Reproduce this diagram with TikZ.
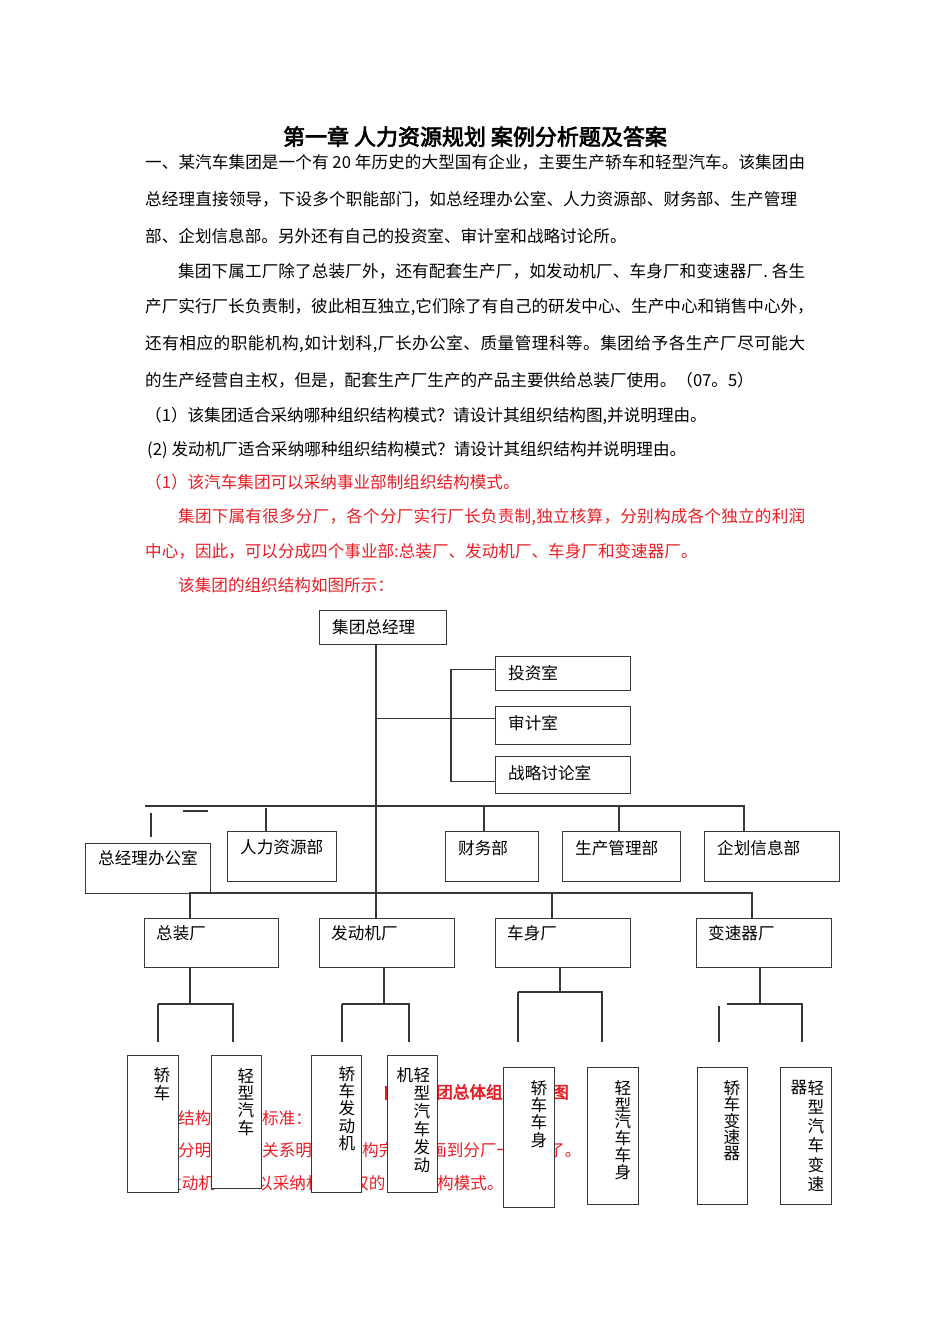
\documentclass[tikz,border=0pt]{standalone}
\usepackage{fontspec}
\setmainfont{Noto Sans CJK SC}[AutoFakeBold=3]
\usetikzlibrary{positioning}

\definecolor{ansred}{RGB}{232,30,36}
\definecolor{boxline}{RGB}{55,55,55}

% justified line: glue between every two characters
\makeatletter
\def\jl@end{\jl@end}
\newcommand{\jline}[2]{\makebox[#1][s]{\jl@first#2\jl@end}}
\def\jl@first#1{#1\jl@next}
\def\jl@next#1{\ifx#1\jl@end\else\hfil#1\expandafter\jl@next\fi}
\makeatother

\begin{document}
\begin{tikzpicture}[
      x=1pt, y=-1pt,
      txt/.style={anchor=base west, inner sep=0pt,
                  font=\fontsize{16.6}{20}\selectfont},
      ans/.style={txt, text=ansred},
      orgbox/.style={draw=boxline, line width=1.2pt, fill=white,
                     anchor=north west, inner sep=0pt},
      boxtxt/.style={inner sep=0pt, font=\fontsize{16.6}{20}\selectfont},
      vchar/.style={inner sep=0pt, font=\fontsize{16.6}{20}\selectfont},
      link/.style={draw=boxline, line width=1.2pt}
    ]
    \useasboundingbox (0,0) rectangle (950,1344);

    % question text
    \node[anchor=base, inner sep=0pt, font=\fontsize{22}{26}\selectfont\bfseries]
      (title) at (475,145) {第一章 人力资源规划 案例分析题及答案};
    \node[txt] (p1a) at (145,168.3) {\jline{660pt}{一、某汽车集团是一个有~20~年历史的大型国有企业，主要生产轿车和轻型汽车。该集团由}};
    \node[txt] (p1b) at (145,205.3) {\jline{652pt}{总经理直接领导，下设多个职能部门，如总经理办公室、人力资源部、财务部、生产管理}};
    \node[txt] (p1c) at (145,242.3) {部、企划信息部。另外还有自己的投资室、审计室和战略讨论所。};
    \node[txt] (p2a) at (178,277.3) {\jline{627pt}{集团下属工厂除了总装厂外，还有配套生产厂，如发动机厂、车身厂和变速器厂.~各生}};
    \node[txt] (p2b) at (145,312.3) {\jline{667pt}{产厂实行厂长负责制，彼此相互独立,它们除了有自己的研发中心、生产中心和销售中心外，}};
    \node[txt] (p2c) at (145,349.3) {\jline{660pt}{还有相应的职能机构,如计划科,厂长办公室、质量管理科等。集团给予各生产厂尽可能大}};
    \node[txt] (p2d) at (145,386.3) {的生产经营自主权，但是，配套生产厂生产的产品主要供给总装厂使用。（07。5）};
    \node[txt] (q1) at (145,421.3) {（1）该集团适合采纳哪种组织结构模式？请设计其组织结构图,并说明理由。};
    \node[txt] (q2) at (147,455.3) {(2)\kern4pt 发动机厂适合采纳哪种组织结构模式？请设计其组织结构并说明理由。};

    % answer text
    \node[ans] (a1) at (145,488.3) {（1）该汽车集团可以采纳事业部制组织结构模式。};
    \node[ans] (a2) at (178,522.3) {\jline{627pt}{集团下属有很多分厂，各个分厂实行厂长负责制,独立核算，分别构成各个独立的利润}};
    \node[ans] (a3) at (145,557.3) {中心，因此，可以分成四个事业部:总装厂、发动机厂、车身厂和变速器厂。};
    \node[ans] (a4) at (178,591.3) {该集团的组织结构如图所示：};

    % answer text left under the small boxes
    \fill[ansred] (385,1086) rectangle (388,1100);
    \node[ans, font=\fontsize{16.6}{20}\selectfont\bfseries] (cap-a) at (436,1098.3) {团总体组};
    \node[ans, font=\fontsize{16.6}{20}\selectfont\bfseries] (cap-b) at (552,1098.3) {图};
    \node[ans] (r1a) at (178,1124.3) {结构};
    \node[ans] (r1b) at (262,1124.3) {标准：};
    \node[ans] (r2a) at (178,1156.3) {分明};
    \node[ans] (r2b) at (262,1156.3) {关系明};
    \node[ans] (r2c) at (362,1156.3) {构完};
    \node[ans] (r2d) at (430,1156.3) {画到分厂一};
    \node[ans] (r2e) at (548,1156.3) {了。};
    \node[ans] (r3a) at (165,1189.3) {发动机};
    \node[ans] (r3b) at (256,1189.3) {以采纳机};
    \node[ans] (r3c) at (352,1189.3) {权的};
    \node[ans] (r3d) at (437,1189.3) {构模式。};

    % boxes
    \node[orgbox, minimum width=127, minimum height=34] (gm) at (319,610) {};
    \node[orgbox, minimum width=135, minimum height=34] (inv) at (495,656) {};
    \node[orgbox, minimum width=135, minimum height=38] (aud) at (495,706) {};
    \node[orgbox, minimum width=135, minimum height=37] (strat) at (495,756) {};
    \node[orgbox, minimum width=125, minimum height=50] (off) at (85,843) {};
    \node[orgbox, minimum width=109, minimum height=50] (hr) at (227,831) {};
    \node[orgbox, minimum width=93, minimum height=50] (fin) at (445,831) {};
    \node[orgbox, minimum width=118, minimum height=50] (prod) at (562,831) {};
    \node[orgbox, minimum width=135, minimum height=50] (plan) at (704,831) {};
    \node[orgbox, minimum width=134, minimum height=49] (asm) at (144,918) {};
    \node[orgbox, minimum width=135, minimum height=49] (eng) at (319,918) {};
    \node[orgbox, minimum width=135, minimum height=49] (body) at (495,918) {};
    \node[orgbox, minimum width=135, minimum height=49] (gear) at (696,918) {};
    \node[orgbox, minimum width=51, minimum height=137] (sedan) at (127,1055) {};
    \node[orgbox, minimum width=50, minimum height=133] (light) at (211,1055) {};
    \node[orgbox, minimum width=50, minimum height=137] (sedeng) at (311,1055) {};
    \node[orgbox, minimum width=50, minimum height=137] (lighteng) at (387,1055) {};
    \node[orgbox, minimum width=51, minimum height=140] (sedbody) at (503,1067) {};
    \node[orgbox, minimum width=51, minimum height=137] (lightbody) at (587,1067) {};
    \node[orgbox, minimum width=50, minimum height=137] (sedgear) at (697,1067) {};
    \node[orgbox, minimum width=51, minimum height=137] (lightgear) at (780,1067) {};

    % box texts
    \node[boxtxt, right=13pt of gm.north west, yshift=-17pt] (gm-t) {集团总经理};
    \node[boxtxt, right=13pt of inv.north west, yshift=-17pt] (inv-t) {投资室};
    \node[boxtxt, right=13pt of aud.north west, yshift=-17pt] (aud-t) {审计室};
    \node[boxtxt, right=13pt of strat.north west, yshift=-17pt] (strat-t) {战略讨论室};
    \node[boxtxt, right=13pt of off.north west, yshift=-15pt] (off-t) {总经理办公室};
    \node[boxtxt, right=13pt of hr.north west, yshift=-16pt] (hr-t) {人力资源部};
    \node[boxtxt, right=13pt of fin.north west, yshift=-17pt] (fin-t) {财务部};
    \node[boxtxt, right=13pt of prod.north west, yshift=-17pt] (prod-t) {生产管理部};
    \node[boxtxt, right=13pt of plan.north west, yshift=-17pt] (plan-t) {企划信息部};
    \node[boxtxt, right=12pt of asm.north west, yshift=-15pt] (asm-t) {总装厂};
    \node[boxtxt, right=12pt of eng.north west, yshift=-15pt] (eng-t) {发动机厂};
    \node[boxtxt, right=12pt of body.north west, yshift=-15pt] (body-t) {车身厂};
    \node[boxtxt, right=12pt of gear.north west, yshift=-15pt] (gear-t) {变速器厂};

    % vertical texts in the small boxes
    \foreach \b/\x/\y/\s/\chars in {sedan/162/1075/18/{轿,车},
        light/246/1076/17.3/{轻,型,汽,车},
        sedeng/347/1074/17.3/{轿,车,发,动,机},
        lighteng/422/1075/18/{轻,型,汽,车,发,动},
        sedbody/539/1088/17.3/{轿,车,车,身},
        lightbody/623/1088/16.8/{轻,型,汽,车,车,身},
        sedgear/732/1088/16.5/{轿,车,变,速,器},
        lightgear/816/1088/19.2/{轻,型,汽,车,变,速}}{
      \foreach \c [count=\i from 0] in \chars
        \node[vchar] (\b-\i) at (\x,\y+\s*\i) {\c};
    }
    \node[vchar] (lighteng-x) at (405,1075) {机};
    \node[vchar] (lightgear-x) at (799,1088) {器};

    % trunk and staff rooms
    \coordinate (tx) at (376,0);
    \coordinate (bx) at (451,0);
    \draw[link] (gm.south -| tx) -- (eng.north -| tx);
    \coordinate (inv-in) at ([yshift=4pt]inv.west);
    \coordinate (aud-in) at ([yshift=7pt]aud.west);
    \coordinate (strat-in) at ([yshift=-6pt]strat.west);
    \draw[link] (inv-in) -- (inv-in -| bx) -- (strat-in -| bx) -- (strat-in);
    \draw[link] (aud-in -| tx) -- (aud-in);

    % departments
    \coordinate (dbar) at (145,806);
    \coordinate (dbar-end) at (744,806);
    \coordinate (fin-d) at (484,806);
    \coordinate (prod-d) at (619,806);
    \coordinate (hr-d) at (266,808);
    \coordinate (off-d) at (151,813);
    \coordinate (dash) at (183,811);
    \draw[link] (dbar) -- (dbar-end) -- (dbar-end |- plan.north);
    \draw[link] (fin-d) -- (fin-d |- fin.north);
    \draw[link] (prod-d) -- (prod-d |- prod.north);
    \draw[link] (hr-d) -- (hr-d |- hr.north);
    \draw[link] (off-d) -- ++(0,24);
    \draw[link] (dash) -- ++(25,0);

    % plants
    \coordinate (fbar) at (190,893);
    \coordinate (fbar-end) at (752,893);
    \coordinate (body-d) at (552,893);
    \draw[link] (fbar |- asm.north) -- (fbar) -- (fbar-end) -- (fbar-end |- gear.north);
    \draw[link] (body-d) -- (body-d |- body.north);

    % products under each plant
    \coordinate (lo) at (0,1042);
    \foreach \f/\jx/\jy/\l/\r/\dl/\dt in {asm/190/1004/158/233/158/1004,
        eng/384/1004/342/409/342/1004,
        body/560/992/518/602/518/992,
        gear/760/1004/727/802/719/1006}{
      \coordinate (\f-j) at (\jx,\jy);
      \coordinate (\f-a) at (\l,\jy);
      \coordinate (\f-b) at (\r,\jy);
      \coordinate (\f-c) at (\dl,\dt);
      \draw[link] (\f.south -| \f-j) -- (\f-j);
      \draw[link] (\f-a) -- (\f-b) -- (\f-b |- lo);
      \draw[link] (\f-c) -- (\f-c |- lo);
    }
  \end{tikzpicture}
\end{document}
